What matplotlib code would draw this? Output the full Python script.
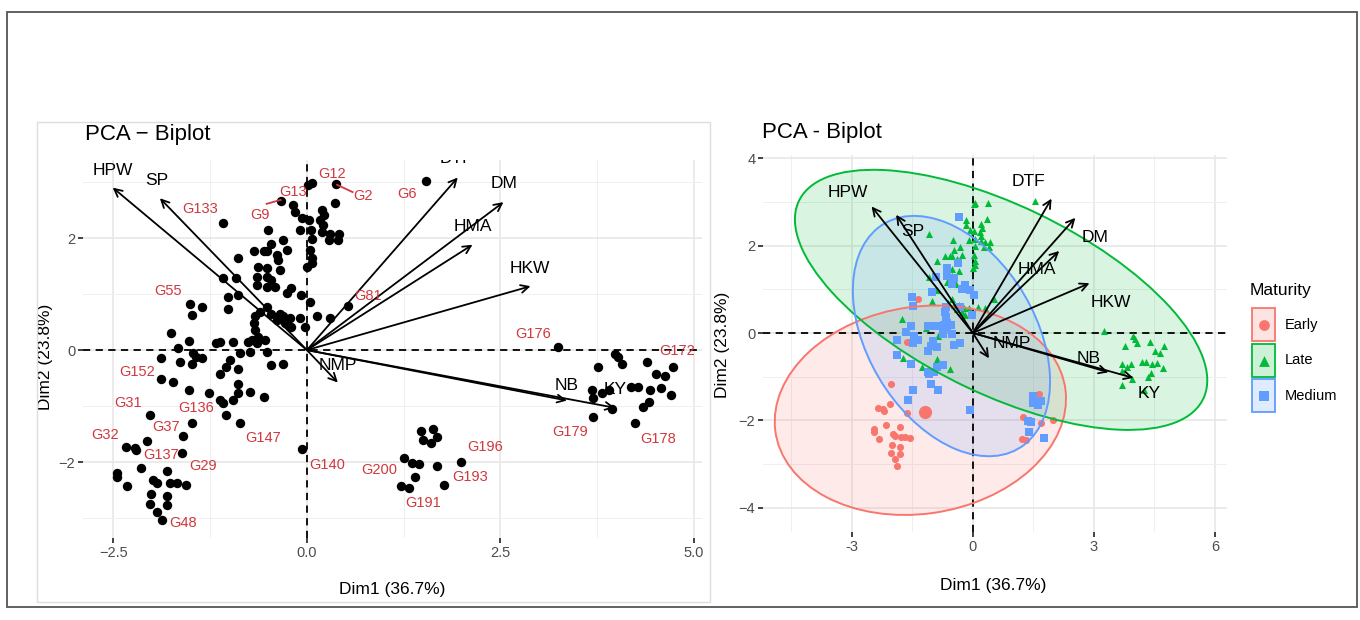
import numpy as np
import matplotlib.pyplot as plt
from matplotlib.patches import Ellipse, Rectangle

plt.rcParams['font.family'] = ['Liberation Sans', 'DejaVu Sans']

# coordenadas dos genótipos (Dim1, Dim2)
dim1 = [0.06, 0.02, 0.37, -0.34, -0.18, -0.16, -0.06, 0.03, -0.09, 0.05,
        0.06, 0.19, 0.22, 0.17, 0.21, 0.19, 0.30, 0.28, 0.36, 0.42,
        0.40, -1.08, -0.50, -0.46, -0.31, -0.26, -0.56, -0.52, -0.69, -0.39,
        -0.37, -0.89, -0.63, -0.52, -0.35, -0.65, -0.52, -0.46, -0.65, -0.52,
        -0.41, -0.20, -0.26, 0.04, 0.06, 0.00, 0.06, -1.08, -0.91, -0.89,
        -1.02, -1.02, -1.51, -1.36, -1.49, -1.75, -1.53, -0.07, 0.04, -0.52,
        -0.61, -0.67, -0.69, -0.46, -0.35, -0.31, -0.28, -0.39, -0.22, -0.20,
        -0.09, -0.03, 0.13, 0.30, 0.53, -0.67, -0.63, -0.71, -0.76, -0.65,
        -0.54, -0.52, -0.74, -0.87, -0.95, -1.17, -1.12, -1.66, -1.47, -1.43,
        -1.36, -1.49, -1.64, -1.88, -1.88, -1.73, -1.53, -1.27, -0.99, -1.04,
        -0.89, -1.12, -0.89, -0.89, -0.74, -0.56, -0.46, -0.31, -1.12, -1.08,
        -0.95, -1.04, -0.87, -1.49, -2.03,
        -1.60, -2.06, -2.34, -2.22, -2.21, -1.62, -2.14, -2.46, -2.45, -2.32,
        -1.99, -1.94, -1.81, -1.77, -1.68, -1.56, -2.01, -1.81, -2.03, -1.81,
        -1.94, -1.87, -0.06,
        1.54, 3.24, 3.98, 4.02, 4.07, 3.76, 3.69, 3.70, 3.82, 3.91,
        3.70, 3.94, 4.19, 4.28, 4.24, 4.39, 4.51, 4.63, 4.73, 4.57,
        4.44, 4.70, 4.42, 4.35,
        1.48, 1.63, 1.50, 1.61, 1.68, 1.25, 1.36, 1.45, 1.68, 1.99,
        1.40, 1.21, 1.32, 1.77]
dim2 = [2.98, 2.95, 2.97, 2.66, 2.59, 2.47, 2.36, 2.33, 2.14, 2.15,
        1.99, 2.50, 2.41, 2.32, 2.23, 2.11, 2.08, 1.96, 2.62, 2.08,
        1.96, 2.26, 2.14, 1.90, 1.96, 1.79, 1.76, 1.76, 1.76, 1.70,
        1.61, 1.65, 1.49, 1.46, 1.43, 1.31, 1.31, 1.25, 1.16, 1.13,
        1.13, 1.10, 1.01, 1.79, 1.64, 1.49, 1.55, 1.28, 1.28, 0.98,
        0.95, 0.74, 0.83, 0.77, 0.63, 0.31, 0.17, 0.98, 0.86, 0.77,
        0.68, 0.60, 0.48, 0.65, 0.65, 0.60, 0.48, 0.54, 0.57, 0.42,
        0.57, 0.42, 0.60, 0.57, 0.79, 0.36, 0.24, 0.18, 0.15, 0.12,
        0.18, -0.03, -0.03, -0.06, 0.15, 0.12, 0.15, 0.03, -0.06, -0.12,
        -0.15, -0.24, -0.21, -0.15, -0.51, -0.57, -0.71, -0.77, -0.18, -0.30,
        -0.33, -0.42, -0.60, -0.77, -0.74, -0.83, -0.27, -0.24, -0.89, -0.95,
        -0.89, -1.16, -1.31, -1.31, -1.16,
        -1.53, -1.62, -1.73, -1.74, -1.79, -1.83, -2.10, -2.20, -2.26, -2.42,
        -2.32, -2.37, -2.15, -2.38, -2.38, -2.41, -2.57, -2.61, -2.74, -2.77,
        -2.89, -3.04, -1.76,
        3.02, 0.05, -0.07, -0.13, -0.24, -0.30, -0.71, -0.86, -0.77, -0.71,
        -1.19, -1.05, -0.66, -0.66, -1.31, -0.21, -0.42, -0.46, -0.30, -0.68,
        -0.71, -0.80, -0.92, -1.01,
        -1.44, -1.40, -1.61, -1.66, -1.56, -1.93, -2.01, -2.04, -2.07, -1.99,
        -2.27, -2.43, -2.46, -2.40]
# grupo de maturidade de cada genótipo (E = Early, L = Late, M = Medium)
maturity = list("LLLMLLLLLL" "LLLLLLLLLL" "LLLLLLLLLL" "MLMLLMLMLM"
                "LMMLLLLLML" "MLMEMLMMML" "LMMLLMLLLL" "LMLLLMMMMM"
                "MMMLMLMMML" "MMEMMLMLMM" "MMLMMLMMMM" "MMMME"
                "M" + "E" * 21 + "M"
                + "L" * 24
                + "MEMMMEMMEEMEEM")

# variáveis (setas)
var_names = ['HPW', 'SP', 'DTF', 'DM', 'HMA', 'HKW', 'NB', 'KY', 'NMP']
var_dim1 = [-2.51, -1.90, 1.95, 2.54, 2.14, 2.89, 3.36, 3.98, 0.40]
var_dim2 = [2.90, 2.71, 3.08, 2.64, 1.88, 1.14, -0.90, -1.03, -0.58]
# posição dos rótulos das setas, painel esquerdo e direito
lab_left_x = [-2.51, -1.94, 1.93, 2.55, 2.15, 2.88, 3.36, 3.98, 0.40]
lab_left_y = [3.21, 3.02, 3.42, 2.98, 2.20, 1.45, -0.63, -0.71, -0.27]
lab_right_x = [-3.09, -1.48, 1.37, 3.02, 1.58, 3.43, 2.88, 4.38, 0.96]
lab_right_y = [3.23, 2.32, 3.47, 2.20, 1.45, 0.69, -0.58, -1.38, -0.23]

# rótulos dos genótipos (painel esquerdo)
gen_labels = ['G12', 'G2', 'G13', 'G9', 'G133', 'G55', 'G81', 'G6', 'G176',
              'G172', 'G179', 'G178', 'G196', 'G193', 'G191', 'G200', 'G140',
              'G147', 'G136', 'G152', 'G31', 'G37', 'G32', 'G137', 'G29', 'G48']
gen_lab_x = [0.32, 0.73, -0.18, -0.61, -1.38, -1.80, 0.79, 1.30, 2.92,
             4.79, 3.40, 4.54, 2.30, 2.11, 1.50, 0.93, 0.26,
             -0.57, -1.43, -2.20, -2.31, -1.82, -2.61, -1.89, -1.34, -1.60]
gen_lab_y = [3.15, 2.75, 2.83, 2.41, 2.52, 1.05, 0.96, 2.79, 0.29,
             -0.02, -1.46, -1.59, -1.73, -2.27, -2.73, -2.14, -2.05,
             -1.57, -1.04, -0.40, -0.95, -1.37, -1.52, -1.88, -2.07, -3.09]
# segmentos ligando ponto ao rótulo (G2 e G9)
seg_x = [[0.39, 0.59], [-0.52, -0.34]]
seg_y = [[2.95, 2.82], [2.61, 2.68]]

# grupos e elipses (painel direito)
groups = ['Early', 'Late', 'Medium']
group_codes = ['E', 'L', 'M']
group_colors = ['#F8766D', '#00BA38', '#619CFF']
group_markers = ['o', '^', 's']
ell_cx = [-1.30, 0.70, -0.53]
ell_cy = [-1.77, 0.76, -0.07]
ell_w = [7.25, 11.0, 6.15]
ell_h = [4.75, 4.35, 4.05]
ell_ang = [7.3, -23.8, -53.8]
early_mean = (-1.19, -1.81)

dim1 = np.array(dim1)
dim2 = np.array(dim2)
maturity = np.array(maturity)


def estilo_eixo(ax, xlim, ylim, xt, xt_lab, xminor, yt, yminor):
    ax.set_xlim(xlim)
    ax.set_ylim(ylim)
    ax.set_xticks(xt)
    ax.set_xticklabels(xt_lab)
    ax.set_xticks(xminor, minor=True)
    ax.set_yticks(yt)
    ax.set_yticks(yminor, minor=True)
    ax.grid(which='major', color='#E6E6E6', lw=1.1)
    ax.grid(which='minor', color='#EFEFEF', lw=0.7)
    ax.set_axisbelow(True)
    for s in ax.spines.values():
        s.set_visible(False)
    ax.tick_params(which='major', length=3.5, width=1.3, color='#333333',
                   labelcolor='#4D4D4D', labelsize=10.5, pad=2)
    ax.tick_params(which='minor', length=0)
    ax.axhline(0, color='black', lw=1.3, ls=(0, (4, 3)), zorder=1.5)
    ax.axvline(0, color='black', lw=1.3, ls=(0, (4, 3)), zorder=1.5)


def setas(ax, lab_x, lab_y):
    for i, nome in enumerate(var_names):
        ax.annotate('', xy=(var_dim1[i], var_dim2[i]), xytext=(0, 0),
                    arrowprops=dict(arrowstyle='->', color='black', lw=1.3,
                                    shrinkA=0, shrinkB=0, mutation_scale=14),
                    zorder=3)
        ax.text(lab_x[i], lab_y[i], nome, fontsize=12.5, ha='center',
                va='center', color='black', zorder=4, clip_on=True)


fig = plt.figure(figsize=(13.6, 6.2), dpi=100)

# ---- painel esquerdo ----
ax1 = fig.add_axes([0.061, 0.132, 0.455, 0.610])
estilo_eixo(ax1, (-2.894, 5.103), (-3.357, 3.393),
            [-2.5, 0, 2.5, 5.0], ['\u22122.5', '0.0', '2.5', '5.0'],
            [-1.25, 1.25, 3.75], [-2, 0, 2], [-3, -1, 1, 3])
ax1.scatter(dim1, dim2, s=46, color='black', zorder=2, linewidths=0)
setas(ax1, lab_left_x, lab_left_y)
for i, g in enumerate(gen_labels):
    ax1.text(gen_lab_x[i], gen_lab_y[i], g, fontsize=10.5, color='#D0383F',
             ha='center', va='center', zorder=4)
for sx, sy in zip(seg_x, seg_y):
    ax1.plot(sx, sy, color='#D0383F', lw=1.3, zorder=4)
ax1.set_xlabel('Dim1 (36.7%)', fontsize=12.5)
ax1.set_ylabel('Dim2 (23.8%)', fontsize=12.5)
ax1.xaxis.set_label_coords(0.50, -0.116)
ax1.yaxis.set_label_coords(-0.048, 0.479)
ax1.text(0.003, 1.066, 'PCA \u2212 Biplot', transform=ax1.transAxes,
         fontsize=16, ha='left', va='center')

# ---- painel direito ----
ax2 = fig.add_axes([0.561, 0.142, 0.341, 0.608])
estilo_eixo(ax2, (-5.20, 6.29), (-4.56, 4.08),
            [-3, 0, 3, 6], ['-3', '0', '3', '6'],
            [-4.5, -1.5, 1.5, 4.5], [-4, -2, 0, 2, 4], [-3, -1, 1, 3])
for k in range(3):
    ax2.add_patch(Ellipse((ell_cx[k], ell_cy[k]), ell_w[k], ell_h[k],
                          angle=ell_ang[k], facecolor=group_colors[k],
                          alpha=0.15, edgecolor='none', zorder=1))
    ax2.add_patch(Ellipse((ell_cx[k], ell_cy[k]), ell_w[k], ell_h[k],
                          angle=ell_ang[k], facecolor='none',
                          edgecolor=group_colors[k], lw=1.4, zorder=2.5))
for k in range(3):
    m = maturity == group_codes[k]
    ax2.scatter(dim1[m], dim2[m], s=26, marker=group_markers[k],
                color=group_colors[k], linewidths=0, zorder=2)
ax2.scatter([early_mean[0]], [early_mean[1]], s=90, color=group_colors[0],
            linewidths=0, zorder=2)
setas(ax2, lab_right_x, lab_right_y)
ax2.set_xlabel('Dim1 (36.7%)', fontsize=12.5)
ax2.set_ylabel('Dim2 (23.8%)', fontsize=12.5)
ax2.xaxis.set_label_coords(0.496, -0.122)
ax2.yaxis.set_label_coords(-0.071, 0.496)
ax2.text(-0.002, 1.061, 'PCA - Biplot', transform=ax2.transAxes,
         fontsize=16, ha='left', va='center')

# ---- molduras e legenda (coordenadas em pixels) ----
ov = fig.add_axes([0, 0, 1, 1])
ov.set_xlim(0, 1360)
ov.set_ylim(620, 0)
ov.axis('off')
ov.add_patch(Rectangle((7, 12), 1350, 595, fill=False, edgecolor='#555555', lw=1.3))
ov.add_patch(Rectangle((37, 122), 673, 480, fill=False, edgecolor='#DDDDDD', lw=1))

ov.text(1250, 290, 'Maturity', fontsize=12.5, ha='left', va='center')
key_top = [308, 344, 379]
for k in range(3):
    ov.add_patch(Rectangle((1252, key_top[k]), 23, 33, facecolor=group_colors[k],
                           alpha=0.2, edgecolor='none'))
    ov.add_patch(Rectangle((1252, key_top[k]), 23, 33, facecolor='none',
                           edgecolor=group_colors[k], lw=1.3))
    ov.scatter([1263.5], [key_top[k] + 16.5], s=60, marker=group_markers[k],
               color=group_colors[k], linewidths=0)
    ov.text(1285, key_top[k] + 16.5, groups[k], fontsize=10.5, ha='left', va='center')

fig.savefig('out.png', dpi=100)
plt.close()
